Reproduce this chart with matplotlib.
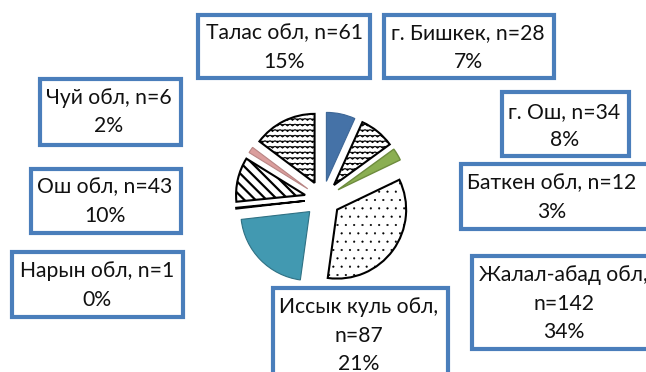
import warnings
warnings.filterwarnings("ignore")
import numpy as np
import matplotlib
matplotlib.use("Agg")
import matplotlib.pyplot as plt
import matplotlib.hatch as mhatch
from matplotlib.path import Path
from matplotlib.patches import Rectangle

# ---- data (clockwise from 12 o'clock) ----
regions = ["г. Бишкек", "г. Ош", "Баткен обл", "Жалал-абад обл", "Иссык куль обл",
           "Нарын обл", "Ош обл", "Чуй обл", "Талас обл"]
counts = [28, 34, 12, 142, 87, 1, 43, 6, 61]
percents = [7, 8, 3, 34, 21, 0, 10, 2, 15]

# ---- custom wavy hatch ----
class WaveHatch(mhatch.HatchPatternBase):
    def __init__(self, hatch, density):
        self.num_lines = int(hatch.count('~') * density)
        self.n_seg = 40
        self.num_vertices = self.num_lines * (self.n_seg + 1)

    def set_vertices_and_codes(self, vertices, codes):
        steps, stepsize = np.linspace(0.0, 1.0, self.num_lines, False, retstep=True)
        steps += stepsize / 2.
        n = self.n_seg
        xs = np.linspace(0.0, 1.0, n + 1)
        zig = 0.009 * np.where(np.arange(n + 1) % 2 == 0, 1.0, -1.0)
        for i, s in enumerate(steps):
            sl = slice(i * (n + 1), (i + 1) * (n + 1))
            vertices[sl, 0] = xs
            vertices[sl, 1] = s + zig
            codes[sl] = Path.LINETO
            codes[i * (n + 1)] = Path.MOVETO

mhatch._hatch_types.append(WaveHatch)

# ---- styles ----
faces = ["#4572A7", "white", "#8BAF52", "white", "#4299B1", "white", "white", "#DB9E9D", "white"]
edges = ["#3D6696", "black", "#6E8C3E", "black", "#2F7184", "black", "black", "#B88584", "black"]
hatches = [None, "~~~", None, "..", None, None, "\\\\\\", None, "~~~"]
lws = [0.8, 1.5, 1.0, 1.5, 0.8, 1.3, 1.5, 0.8, 1.5]
hlws = [1, 0.7, 1, 0.3, 1, 1, 1.6, 1, 0.7]

W, H = 646, 372
fig = plt.figure(figsize=(W / 100, H / 100), dpi=100)
ax = fig.add_axes([0, 0, 1, 1])

cx, cy, R, expl = 322.6, 199.0, 69.0, 18.0
wedges, _ = ax.pie(counts, startangle=-90, counterclock=True, radius=R,
                   center=(cx, cy), explode=[expl] * len(counts),
                   colors=faces, frame=False)
for w, ec, hp, lw, hlw in zip(wedges, edges, hatches, lws, hlws):
    w.set_edgecolor(ec)
    w.set_linewidth(lw)
    if hp:
        w.set_hatch(hp)
        try:
            w.set_hatch_linewidth(hlw)
        except AttributeError:
            pass

ax.set_xlim(0, W)
ax.set_ylim(H, 0)
ax.set_aspect("equal")
ax.axis("off")

# ---- label boxes (layout: x0, y0, x1, y1, text center x, first line y, wrap) ----
layout = {
    "Талас обл": (197.5, 15, 370, 78, 284, 33, False),
    "г. Бишкек": (384, 15, 554, 78, 468, 33, False),
    "г. Ош": (501.5, 91.5, 628.5, 155.5, 564.5, 112, False),
    "Баткен обл": (460.5, 163.5, 660, 228.5, 552, 183, False),
    "Жалал-абад обл": (471.5, 255.5, 660, 348.5, 563.6, 275, True),
    "Иссык куль обл": (272.5, 287.5, 447.5, 400, 358.5, 307, True),
    "Нарын обл": (11.5, 251.5, 183, 316.5, 97, 271, False),
    "Ош обл": (31, 168.5, 180.5, 232.5, 105, 187, False),
    "Чуй обл": (39.5, 78.5, 180.5, 144.5, 109, 98, False),
}
box_color = "#4A7EBB"
line_h = 28.5
for name, n, p in zip(regions, counts, percents):
    x0, y0, x1, y1, tx, ty, wrap = layout[name]
    ax.add_patch(Rectangle((x0, y0), x1 - x0, y1 - y0, facecolor="white",
                           edgecolor=box_color, linewidth=3.0, zorder=3,
                           clip_on=False))
    if wrap:
        lines = [f"{name},", f"n={n}", f"{p}%"]
    else:
        lines = [f"{name}, n={n}", f"{p}%"]
    for k, t in enumerate(lines):
        ax.text(tx, ty + k * line_h, t, ha="center", va="center",
                fontsize=15.2, family=["Lato", "DejaVu Sans"], color="#111111",
                zorder=4)

fig.savefig("out.png", dpi=100)
